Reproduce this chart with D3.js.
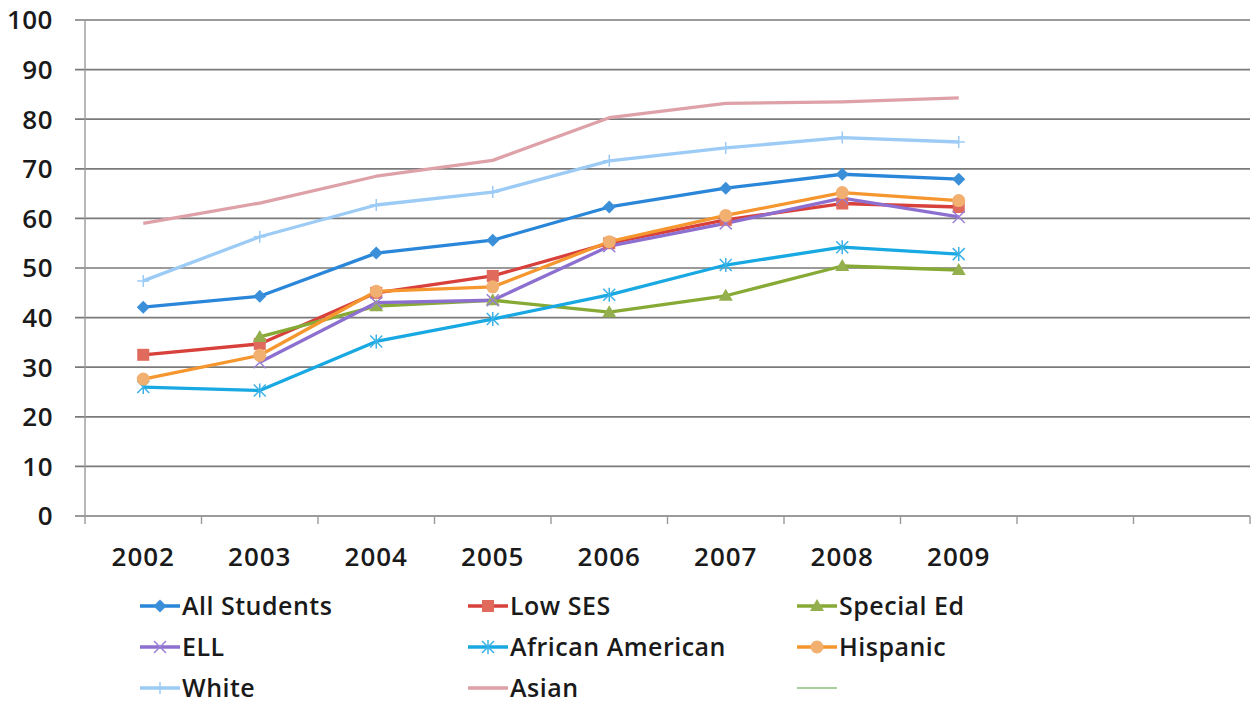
<!DOCTYPE html>
<html><head><meta charset="utf-8">
<script src="https://cdn.jsdelivr.net/npm/d3@7"></script>
<style>body{margin:0;background:#fff;} text{font-family:"Open Sans",sans-serif;fill:#1a1a1a;font-weight:600;}</style>
</head><body>
<svg id="c" width="1251" height="703"></svg>
<script>
const categories = ["2002","2003","2004","2005","2006","2007","2008","2009","",""];
const yTicks = [0,10,20,30,40,50,60,70,80,90,100];
const allStudents = [42.1,44.3,53.0,55.6,62.3,66.1,68.9,67.9];
const lowSES = [32.5,34.7,45.0,48.4,55.0,59.7,63.0,62.3];
const specialEd = [null,36.1,42.3,43.5,41.1,44.4,50.4,49.6];
const ell = [null,31.0,43.0,43.5,54.4,59.0,64.1,60.3];
const africanAmerican = [26.0,25.3,35.2,39.7,44.6,50.6,54.2,52.8];
const hispanic = [27.6,32.4,45.3,46.2,55.3,60.6,65.2,63.6];
const white = [47.4,56.3,62.7,65.3,71.6,74.2,76.3,75.4];
const asian = [59.0,63.1,68.5,71.7,80.3,83.2,83.5,84.3];

const series = [
 {name:"All Students", values:allStudents, color:"#2a86d8", mColor:"#3b8fd9", marker:"diamond"},
 {name:"Low SES", values:lowSES, color:"#d8403b", mColor:"#e06a5c", marker:"square"},
 {name:"Special Ed", values:specialEd, color:"#86aa35", mColor:"#94b04e", marker:"triangle"},
 {name:"ELL", values:ell, color:"#8d6fd0", mColor:"#9a80d4", marker:"x"},
 {name:"African American", values:africanAmerican, color:"#18a8e2", mColor:"#3bb2e6", marker:"star"},
 {name:"Hispanic", values:hispanic, color:"#f5962f", mColor:"#f2b070", marker:"circle"},
 {name:"White", values:white, color:"#9ccbf5", mColor:"#9ccbf5", marker:"plus"},
 {name:"Asian", values:asian, color:"#dea1a8", mColor:"#dea1a8", marker:"none"},
 {name:"", values:[], color:"#a9cf9a", mColor:"#a9cf9a", marker:"none"}
];

const svg = d3.select("#c");
const M = {left:85, right:1250, top:20, bottom:516};
const x = d3.scaleBand().domain(d3.range(categories.length)).range([M.left, M.right]);
const y = d3.scaleLinear().domain([0,100]).range([M.bottom, M.top]);

svg.append("g").selectAll("line").data(yTicks).join("line")
  .attr("x1", M.left-10).attr("x2", M.right)
  .attr("y1", d=>y(d)).attr("y2", d=>y(d))
  .attr("stroke","#7a7a7a").attr("stroke-width",1.7);
svg.append("line").attr("x1",M.left).attr("x2",M.left).attr("y1",y(100)).attr("y2",M.bottom+8)
  .attr("stroke","#9a9a9a").attr("stroke-width",1.4);
svg.append("g").selectAll("line").data(d3.range(1,categories.length+1)).join("line")
  .attr("x1", d=>M.left + d*x.step()).attr("x2", d=>M.left + d*x.step())
  .attr("y1", M.bottom).attr("y2", M.bottom+8)
  .attr("stroke","#9a9a9a").attr("stroke-width",1.4);
svg.append("g").selectAll("text").data(yTicks).join("text")
  .attr("x",53).attr("y",d=>y(d)).attr("dy","0.36em").attr("text-anchor","end")
  .attr("font-size",26).attr("letter-spacing","0.5px").text(d=>d);
svg.append("g").selectAll("text").data(categories).join("text")
  .attr("x",(d,i)=>x(i)+x.bandwidth()/2).attr("y",557).attr("dy","0.36em")
  .attr("text-anchor","middle").attr("font-size",26).attr("letter-spacing","1px").text(d=>d);

function drawMarker(g, type, cx, cy, col){
  const s = 6.5;
  if(type==="diamond"){
    g.append("path").attr("d",`M${cx},${cy-s}L${cx+s},${cy}L${cx},${cy+s}L${cx-s},${cy}Z`).attr("fill",col);
  } else if(type==="square"){
    g.append("rect").attr("x",cx-6).attr("y",cy-6).attr("width",12).attr("height",12).attr("fill",col);
  } else if(type==="triangle"){
    g.append("path").attr("d",`M${cx},${cy-7}L${cx+7},${cy+5}L${cx-7},${cy+5}Z`).attr("fill",col);
  } else if(type==="circle"){
    g.append("circle").attr("cx",cx).attr("cy",cy).attr("r",6.5).attr("fill",col);
  } else if(type==="x"){
    g.append("path").attr("d",`M${cx-6},${cy-6}L${cx+6},${cy+6}M${cx-6},${cy+6}L${cx+6},${cy-6}`).attr("stroke",col).attr("stroke-width",1.5);
  } else if(type==="star"){
    g.append("path").attr("d",`M${cx-6},${cy-6}L${cx+6},${cy+6}M${cx-6},${cy+6}L${cx+6},${cy-6}M${cx},${cy-7}L${cx},${cy+7}`).attr("stroke",col).attr("stroke-width",1.5);
  } else if(type==="plus"){
    g.append("path").attr("d",`M${cx-6},${cy}L${cx+6},${cy}M${cx},${cy-6}L${cx},${cy+6}`).attr("stroke",col).attr("stroke-width",1.5);
  }
}

const line = d3.line().defined(d=>d!=null).x((d,i)=>x(i)+x.bandwidth()/2).y(d=>y(d));
const plot = svg.append("g");
series.forEach(s=>{
  if(!s.values.length) return;
  plot.append("path").datum(s.values).attr("d",line).attr("fill","none")
    .attr("stroke",s.color).attr("stroke-width",3.3).attr("stroke-linejoin","round");
});
series.forEach(s=>{
  s.values.forEach((v,i)=>{ if(v!=null) drawMarker(plot, s.marker, x(i)+x.bandwidth()/2, y(v), s.mColor); });
});

const colX = [140,468,797], rowY = [606,647,688];
series.forEach((s,k)=>{
  const lx = colX[k%3], ly = rowY[Math.floor(k/3)];
  const g = svg.append("g");
  g.append("line").attr("x1",lx).attr("x2",lx+40).attr("y1",ly).attr("y2",ly)
    .attr("stroke",s.color).attr("stroke-width",s.name?3.3:2);
  drawMarker(g, s.marker, lx+20, ly, s.mColor);
  g.append("text").attr("x",lx+42).attr("y",ly).attr("dy","0.36em").attr("font-size",25)
    .attr("letter-spacing","0.5px").text(s.name);
});
</script>
</body></html>
